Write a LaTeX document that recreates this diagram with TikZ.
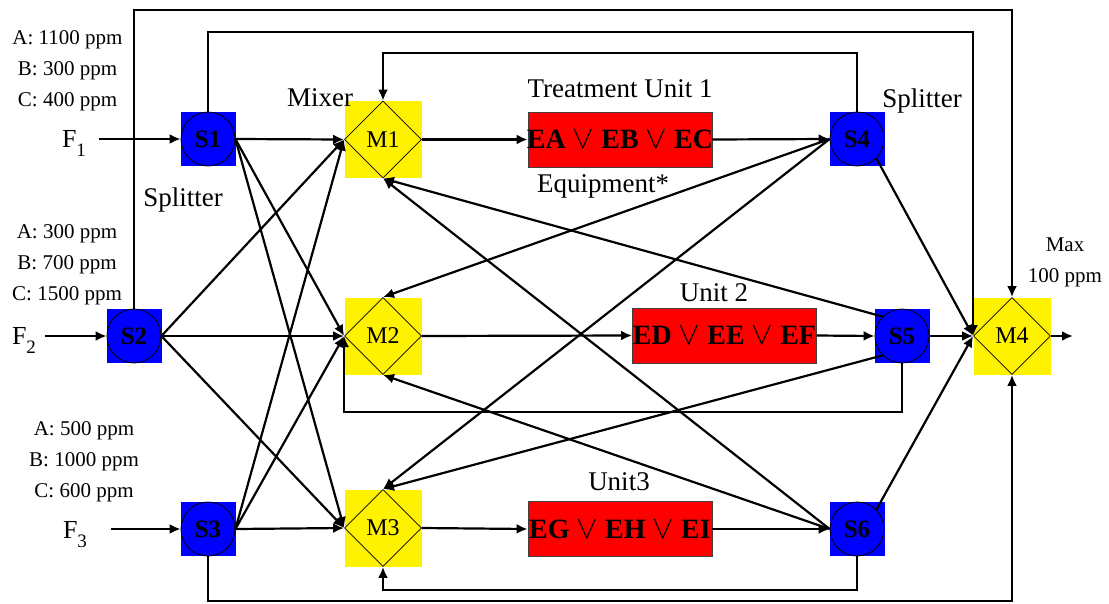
\documentclass[tikz,border=0pt]{standalone}
\usepackage{graphicx}
\usepackage{fontspec}
\setmainfont{Liberation Serif}
\usetikzlibrary{arrows.meta,shapes.geometric}
\newcommand{\orsym}{\scalebox{1.3}{$\vee$}}
\newcommand{\unittext}[1]{\makebox[176pt]{#1}}
\begin{document}
\begin{tikzpicture}[x=1pt,y=-1pt,
  flow/.style={line width=2.2pt,-{Latex[length=11pt,width=10pt]}},
  plain/.style={line width=2.2pt},
  splitter/.style={circle,draw=black,line width=0.8pt,minimum size=54pt,inner sep=0pt,font=\fontsize{25}{25}\selectfont\bfseries},
  mixer/.style={diamond,draw=black,line width=0.8pt,minimum width=77pt,minimum height=77pt,inner sep=0pt,font=\fontsize{24}{24}\selectfont},
  unitbox/.style={rectangle,draw=black!75,line width=0.8pt,fill=red,minimum width=184pt,minimum height=55pt,inner sep=0pt,font=\fontsize{28}{28}\selectfont\bfseries},
  lbl/.style={font=\fontsize{27}{27}\selectfont,inner sep=0pt},
  ppm/.style={font=\fontsize{21}{31}\selectfont,inner sep=0pt,align=center},
  flab/.style={font=\fontsize{26}{26}\selectfont,inner sep=0pt}
]
\useasboundingbox (0,0) rectangle (1109,603);

% splitters
\foreach \n/\x/\y in {S1/208/139,S2/134/336,S3/208/529,S4/857/139,S5/902/336,S6/857/529}{
  \fill[blue] (\x-27.5,\y-27) rectangle (\x+27.5,\y+27);
  \node[splitter] (\n) at (\x,\y) {\n};
}
% mixers
\foreach \n/\x/\y in {M1/383/139.5,M2/383/336,M3/383/528,M4/1012/336}{
  \fill[yellow] (\x-38.5,\y-38.5) rectangle (\x+38.5,\y+38.5);
  \node[mixer] (\n) at (\x,\y) {\n};
}
% treatment units
\node[unitbox] (U1) at (620,139.5) {\unittext{EA \orsym{} EB \orsym{} EC}};
\node[unitbox] (U2) at (724.5,335.5) {\unittext{ED \orsym{} EE \orsym{} EF}};
\node[unitbox] (U3) at (620,529) {\unittext{EG \orsym{} EH \orsym{} EI}};

% labels
\node[ppm] (c1) at (67.5,71) {A: 1100 ppm\\B: 300 ppm\\C: 400 ppm};
\node[ppm] (c2) at (67,265) {A: 300 ppm\\B: 700 ppm\\C: 1500 ppm};
\node[ppm] (c3) at (84,462) {A: 500 ppm\\B: 1000 ppm\\C: 600 ppm};
\node[flab] (F1) at (74,143) {F\raisebox{-9pt}{\fontsize{19}{19}\selectfont 1}};
\node[flab] (F2) at (24,340) {F\raisebox{-9pt}{\fontsize{19}{19}\selectfont 2}};
\node[flab] (F3) at (75,535) {F\raisebox{-9pt}{\fontsize{19}{19}\selectfont 3}};
\node[lbl] (mixl) at (320,98) {Mixer};
\node[lbl] (spl1) at (183,200) {Splitter};
\node[lbl] (spl2) at (922,101) {Splitter};
\node[lbl] (tu1) at (620,89) {Treatment Unit 1};
\node[lbl] (eq) at (603,186) {Equipment*};
\node[lbl] (tu2) at (714,293) {Unit 2};
\node[lbl] (tu3) at (619,482) {Unit3};
\node[ppm] (maxl) at (1065,262) {Max\\100 ppm};

% free ends
\coordinate (in1) at (99,139);
\coordinate (in2) at (45,336);
\coordinate (in3) at (111,529);
\coordinate (out) at (1073,336);
\coordinate (top1) at (0,10);
\coordinate (top2) at (0,32);
\coordinate (top3) at (0,53);
\coordinate (bot1) at (0,601);
\coordinate (bot2) at (0,412);
\coordinate (bot3) at (0,590);

% main flows
\draw[flow] (in1) -- (S1.west);
\draw[flow] (in2) -- (S2.west);
\draw[flow] (in3) -- (S3.west);
\draw[flow] (S1.east) -- (M1.west);
\draw[flow] (S2.east) -- (M2.west);
\draw[flow] (S3.east) -- (M3.west);
\draw[flow] (M1.east) -- (U1.west);
\draw[flow] (M2.east) -- (U2.west);
\draw[flow] (M3.east) -- (U3.west);
\draw[flow] (U1.east) -- (S4.west);
\draw[flow] (U2.east) -- (S5.west);
\draw[flow] (U3.east) -- (S6.west);
\draw[flow] (S5.east) -- (M4.west);
\draw[flow] (M4.east) -- (out);

% crossing flows from feed splitters
\draw[flow] (S1.east) -- (M2.west);
\draw[flow] (S1.east) -- (M3.west);
\draw[flow] (S2.east) -- (M1.west);
\draw[flow] (S2.east) -- (M3.west);
\draw[flow] (S3.east) -- (M1.west);
\draw[flow] (S3.east) -- (M2.west);

% recycle flows
\draw[flow] (S4.west) -- (M2.north);
\draw[flow] (S4.west) -- (M3.north);
\draw[flow] (S5.north west) -- (M1.south);
\draw[flow] (S5.south west) -- (M3.north);
\draw[flow] (S6.west) -- (M1.south);
\draw[flow] (S6.west) -- (M2.south);
\draw[flow] (S4.south east) -- (M4.west);
\draw[flow] (S6.north east) -- (M4.west);

% loops
\draw[flow] (S2.north) |- (M4.north |- top1) -- (M4.north);
\draw[flow] (S3.south) |- (M4.south |- bot1) -- (M4.south);
\draw[flow] (S1.north) |- (M4.west |- top2) -- (M4.west);
\draw[flow] (S4.north) |- (M1.north |- top3) -- (M1.north);
\draw[flow] (S5.south) |- (M2.west |- bot2) -- (M2.west);
\draw[flow] (S6.south) |- (M3.south |- bot3) -- (M3.south);
\end{tikzpicture}
\end{document}
